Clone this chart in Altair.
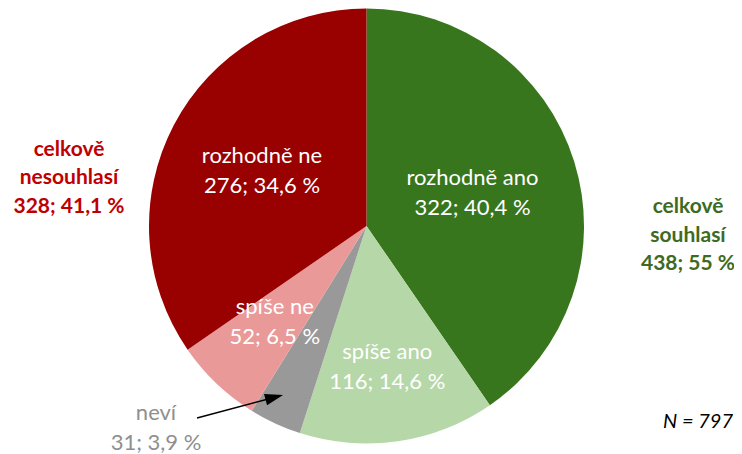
import altair as alt
import pandas as pd

categories = ["rozhodně ano", "spíše ano", "neví", "spíše ne", "rozhodně ne"]
counts = [322, 116, 31, 52, 276]
percents = ["40,4", "14,6", "3,9", "6,5", "34,6"]
colors = ["#38761D", "#B6D7A8", "#999999", "#EA9999", "#990000"]

agree_text = ["celkově", "souhlasí", "438; 55 %"]
disagree_text = ["celkově", "nesouhlasí", "328; 41,1 %"]
n_text = "N = 797"

df = pd.DataFrame({
    "kat": categories,
    "pocet": counts,
    "pct": percents,
    "poradi": list(range(len(categories))),
})
df["popis"] = df["kat"] + "\n" + df["pocet"].astype(str) + "; " + df["pct"] + " %"

FONT = "Lato"
W, H = 717, 436
R = 217.5
LH = 30

base = alt.Chart(df).encode(
    theta=alt.Theta("pocet:Q", stack=True),
    order=alt.Order("poradi:Q"),
)

pie = base.mark_arc(outerRadius=R, strokeWidth=0).encode(
    color=alt.Color("kat:N", scale=alt.Scale(domain=categories, range=colors), legend=None)
)

label_radius = {"rozhodně ano": 111, "spíše ano": 143, "spíše ne": 133, "rozhodně ne": 118}
label_layers = []
for kat, r in label_radius.items():
    label_layers.append(
        base.mark_text(radius=r, font=FONT, fontSize=22, color="white",
                       lineBreak="\n", lineHeight=LH, dy=-LH / 2,
                       align="center", baseline="middle").encode(
            text=alt.condition(alt.datum.kat == kat, "popis:N", alt.value(""))
        )
    )

nevi_label = alt.Chart(df[df["kat"] == "neví"]).mark_text(
    font=FONT, fontSize=22, color="#8F8F8F", lineBreak="\n", lineHeight=LH,
    align="center", baseline="alphabetic"
).encode(x=alt.value(148), y=alt.value(412), text="popis:N")

one = pd.DataFrame({"a": [0]})
arrow_shaft = alt.Chart(one).mark_rule(color="black", strokeWidth=1.5).encode(
    x=alt.value(189), y=alt.value(410), x2=alt.value(268), y2=alt.value(389)
)
arrow_head = alt.Chart(one).mark_point(
    shape="M0,-1L0.65,1L-0.65,1Z", filled=True, color="black", opacity=1, size=330, angle=75
).encode(x=alt.value(266.3), y=alt.value(389.3))

left_txt = alt.Chart(one).mark_text(
    font=FONT, fontSize=21, fontWeight="bold", color="#C00000", lineBreak="\n",
    lineHeight=28.8, align="center", baseline="alphabetic"
).encode(x=alt.value(61), y=alt.value(147.7), text=alt.value("\n".join(disagree_text)))

right_txt = alt.Chart(one).mark_text(
    font=FONT, fontSize=21, fontWeight="bold", color="#3E6B21", lineBreak="\n",
    lineHeight=28.4, align="center", baseline="alphabetic"
).encode(x=alt.value(680), y=alt.value(205.3), text=alt.value("\n".join(agree_text)))

n_txt = alt.Chart(one).mark_text(
    font=FONT, fontSize=20, fontStyle="italic", color="black", align="right", baseline="alphabetic"
).encode(x=alt.value(725), y=alt.value(419.7), text=alt.value(n_text))

chart = alt.layer(pie, *label_layers, nevi_label, arrow_shaft, arrow_head, left_txt, right_txt, n_txt).properties(
    width=W, height=H,
    padding={"left": 0, "top": 0, "right": 9, "bottom": 10},
    autosize=alt.AutoSizeParams(type="none"),
).configure_view(stroke=None)

chart.save("out.html", embed_options={"renderer": "svg", "actions": False})
